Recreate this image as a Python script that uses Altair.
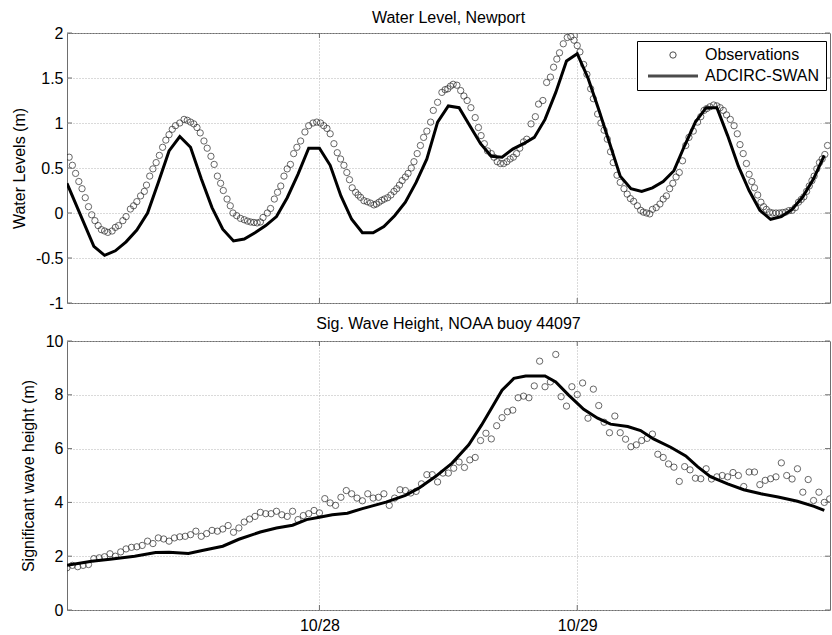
import altair as alt
import pandas as pd

# ---------------- data (hours relative to 10/28 00:00) ----------------
# Water level observations (Newport)
wl_obs_hours = [-23.3, -23.0, -22.7, -22.4, -22.1, -21.8, -21.5, -21.2, -20.9, -20.6,
                -20.3, -20.0, -19.7, -19.3, -19.0, -18.7, -18.3, -18.0, -17.6, -17.3,
                -17.0, -16.65, -16.3, -16.1, -15.8, -15.5, -15.2, -14.9, -14.6, -14.3,
                -14.0, -13.7, -13.4, -13.0, -12.6, -12.3, -12.0, -11.7, -11.4, -11.1,
                -10.75, -10.45, -10.1, -9.8, -9.5, -9.2, -8.95, -8.6, -8.3, -8.05,
                -7.7, -7.35, -7.0, -6.7, -6.4, -6.1, -5.8, -5.5, -5.25, -4.85,
                -4.55, -4.2, -3.9, -3.6, -3.3, -3.0, -2.7, -2.4, -2.1, -1.75,
                -1.35, -1.0, -0.6, -0.25, 0.1, 0.4, 0.7, 1.0, 1.35, 1.66,
                1.97, 2.28, 2.55, 2.8, 3.05, 3.37, 3.6, 3.83, 4.14, 4.45,
                4.75, 5.07, 5.3, 5.55, 5.8, 6.05, 6.35, 6.65, 6.94, 7.2,
                7.45, 7.7, 8.0, 8.25, 8.55, 8.8, 9.1, 9.4, 9.7, 10.0,
                10.35, 10.6, 11.0, 11.4, 11.7, 11.95, 12.2, 12.45, 12.8, 13.15,
                13.45, 13.75, 14.1, 14.5, 14.8, 15.05, 15.35, 15.65, 16.0, 16.25,
                16.55, 16.85, 17.15, 17.45, 17.75, 18.05, 18.35, 18.65, 19.0, 19.3,
                19.7, 20.1, 20.4, 20.8, 21.15, 21.5, 21.8, 22.1, 22.35, 22.7,
                23.07, 23.4, 23.7, 24.0, 24.25, 24.6, 24.9, 25.25, 25.5, 25.9,
                26.2, 26.5, 26.8, 27.1, 27.35, 27.7, 28.0, 28.35, 28.65, 28.95,
                29.25, 29.6, 29.9, 30.15, 30.45, 30.75, 31.0, 31.35, 31.7, 32.0,
                32.3, 32.6, 32.9, 33.2, 33.5, 33.8, 34.1, 34.4, 34.8, 35.2,
                35.5, 35.8, 36.05, 36.35, 36.7, 37.0, 37.3, 37.6, 37.9, 38.25,
                38.6, 38.9, 39.15, 39.45, 39.75, 40.0, 40.25, 40.5, 40.8, 41.1,
                41.35, 41.6, 41.9, 42.2, 42.5, 42.8, 43.1, 43.4, 43.7, 44.0,
                44.3, 44.6, 44.85, 45.1, 45.35, 45.6, 45.85, 46.05, 46.3, 46.55,
                46.8, 47.05, 47.3]
wl_obs_values = [0.62, 0.53, 0.44, 0.35, 0.27, 0.17, 0.07, -0.02, -0.085, -0.14,
                 -0.185, -0.20, -0.215, -0.20, -0.16, -0.14, -0.085, -0.04, 0.044, 0.08,
                 0.126, 0.19, 0.24, 0.31, 0.41, 0.49, 0.56, 0.64, 0.73, 0.81,
                 0.87, 0.93, 0.97, 1.0, 1.04, 1.03, 1.01, 0.99, 0.95, 0.89,
                 0.80, 0.72, 0.63, 0.54, 0.41, 0.33, 0.25, 0.155, 0.08, 0.0,
                 -0.03, -0.06, -0.075, -0.09, -0.10, -0.105, -0.11, -0.10, -0.05, 0.0,
                 0.05, 0.155, 0.23, 0.30, 0.41, 0.49, 0.54, 0.66, 0.73, 0.80,
                 0.90, 0.97, 1.0, 1.01, 1.0, 0.97, 0.94, 0.88, 0.77, 0.67,
                 0.60, 0.53, 0.45, 0.37, 0.28, 0.23, 0.20, 0.174, 0.137, 0.125,
                 0.11, 0.09, 0.10, 0.12, 0.14, 0.155, 0.17, 0.20, 0.24, 0.27,
                 0.31, 0.36, 0.40, 0.44, 0.50, 0.57, 0.66, 0.75, 0.84, 0.91,
                 1.01, 1.14, 1.23, 1.34, 1.37, 1.38, 1.41, 1.43, 1.42, 1.36,
                 1.30, 1.25, 1.17, 1.06, 0.95, 0.86, 0.77, 0.69, 0.66, 0.62,
                 0.57, 0.55, 0.55, 0.57, 0.60, 0.62, 0.66, 0.72, 0.79, 0.82,
                 0.99, 1.07, 1.21, 1.25, 1.45, 1.51, 1.62, 1.71, 1.78, 1.88,
                 1.95, 1.96, 1.92, 1.86, 1.79, 1.65, 1.54, 1.38, 1.27, 1.10,
                 1.00, 0.92, 0.82, 0.68, 0.56, 0.42, 0.34, 0.27, 0.21, 0.16,
                 0.13, 0.08, 0.03, 0.01, 0.0, -0.01, 0.04, 0.06, 0.10, 0.155,
                 0.19, 0.27, 0.33, 0.40, 0.45, 0.58, 0.75, 0.84, 0.91, 1.01,
                 1.07, 1.14, 1.16, 1.18, 1.20, 1.19, 1.17, 1.14, 1.09, 1.04,
                 0.97, 0.88, 0.76, 0.66, 0.55, 0.43, 0.35, 0.28, 0.20, 0.12,
                 0.07, 0.04, 0.01, 0.0, 0.0, 0.0, 0.005, 0.01, 0.026, 0.03,
                 0.06, 0.12, 0.15, 0.18, 0.24, 0.30, 0.36, 0.41, 0.49, 0.56,
                 0.60, 0.65, 0.75]

# Water level, ADCIRC-SWAN model (hourly)
wl_model_hours = [-23.5, -21, -20, -19, -18, -17, -16, -15, -14, -13,
                  -12, -11, -10, -9, -8, -7, -6, -5, -4, -3,
                  -2, -1, 0, 1, 2, 3, 4, 5, 6, 7,
                  8, 9, 10, 11, 12, 13, 14, 15, 16, 17,
                  18, 19, 20, 21, 22, 23, 24, 25, 26, 27,
                  28, 29, 30, 31, 32, 33, 34, 35, 36, 37,
                  38, 39, 40, 41, 42, 43, 44, 45, 46, 47]
wl_model_values = [0.33, -0.37, -0.47, -0.42, -0.32, -0.19, 0.00, 0.34, 0.69, 0.85,
                   0.73, 0.38, 0.06, -0.18, -0.31, -0.29, -0.22, -0.14, -0.04, 0.17,
                   0.43, 0.72, 0.72, 0.53, 0.19, -0.07, -0.22, -0.22, -0.15, -0.03,
                   0.12, 0.34, 0.60, 1.01, 1.19, 1.17, 0.97, 0.77, 0.63, 0.62,
                   0.71, 0.77, 0.84, 1.04, 1.34, 1.69, 1.77, 1.50, 1.15, 0.78,
                   0.41, 0.27, 0.24, 0.28, 0.35, 0.47, 0.75, 1.01, 1.17, 1.17,
                   0.86, 0.52, 0.25, 0.03, -0.07, -0.04, 0.04, 0.18, 0.38, 0.64]

# Significant wave height, NOAA buoy 44097 (half-hourly)
hs_obs_hours = [-23.5, -23.0, -22.5, -22.0, -21.5, -21.0, -20.5, -20.0, -19.5, -19.0,
                -18.5, -18.0, -17.5, -17.0, -16.5, -16.0, -15.5, -15.0, -14.5, -14.0,
                -13.5, -13.0, -12.5, -12.0, -11.5, -11.0, -10.5, -10.0, -9.5, -9.0,
                -8.5, -8.0, -7.5, -7.0, -6.5, -6.0, -5.5, -5.0, -4.5, -4.0,
                -3.5, -3.0, -2.5, -2.0, -1.5, -1.0, -0.5, 0.0, 0.5, 1.0,
                1.5, 2.0, 2.5, 3.0, 3.5, 4.0, 4.5, 5.0, 5.5, 6.0,
                6.5, 7.0, 7.5, 8.0, 8.5, 9.0, 9.5, 10.0, 10.5, 11.0,
                11.5, 12.0, 12.5, 13.0, 13.5, 14.0, 14.5, 15.0, 15.5, 16.0,
                16.5, 17.0, 17.5, 18.0, 18.5, 19.0, 19.5, 20.0, 20.5, 21.0,
                21.5, 22.0, 22.5, 23.0, 23.5, 24.0, 24.5, 25.0, 25.5, 26.0,
                26.5, 27.0, 27.5, 28.0, 28.5, 29.0, 29.5, 30.0, 30.5, 31.0,
                31.5, 32.0, 32.5, 33.0, 33.5, 34.0, 34.5, 35.0, 35.5, 36.0,
                36.5, 37.0, 37.5, 38.0, 38.5, 39.0, 39.5, 40.0, 40.5, 41.0,
                41.5, 42.0, 42.5, 43.0, 43.5, 44.0, 44.5, 45.0, 45.5, 46.0,
                46.5, 47.0, 47.5]
hs_obs_values = [1.57, 1.66, 1.61, 1.66, 1.69, 1.91, 1.94, 1.98, 2.09, 2.00,
                 2.16, 2.27, 2.33, 2.35, 2.40, 2.56, 2.47, 2.68, 2.64, 2.56,
                 2.68, 2.72, 2.74, 2.80, 2.93, 2.74, 2.84, 2.96, 2.93, 3.01,
                 3.14, 2.89, 3.05, 3.27, 3.38, 3.48, 3.63, 3.58, 3.58, 3.67,
                 3.54, 3.48, 3.67, 3.36, 3.51, 3.58, 3.70, 3.61, 4.14, 3.98,
                 3.89, 4.19, 4.44, 4.32, 4.16, 4.06, 4.32, 4.16, 4.19, 4.32,
                 3.89, 4.16, 4.47, 4.44, 4.35, 4.41, 4.69, 5.03, 5.03, 4.76,
                 5.09, 5.09, 5.27, 5.50, 5.30, 5.58, 5.67, 6.30, 6.57, 6.36,
                 6.85, 7.15, 7.37, 7.43, 7.89, 7.95, 7.89, 8.33, 9.25, 8.30,
                 8.48, 9.50, 7.93, 7.58, 8.30, 8.01, 8.44, 7.13, 8.21, 7.60,
                 6.98, 6.59, 7.21, 6.59, 6.35, 6.07, 6.14, 6.30, 6.38, 6.54,
                 5.79, 5.67, 5.43, 5.31, 4.78, 5.33, 5.21, 4.90, 4.88, 5.25,
                 4.87, 4.95, 5.00, 4.95, 5.11, 5.00, 4.59, 5.13, 5.13, 4.66,
                 4.82, 4.88, 4.95, 5.47, 5.00, 4.87, 5.25, 4.38, 4.85, 4.07,
                 4.38, 4.00, 4.13]

# Significant wave height, ADCIRC-SWAN model
hs_model_hours = [-23.5, -21.2, -19.5, -17.2, -15.25, -14.0, -12.2, -10.8, -9.0, -7.5,
                  -5.5, -4.0, -2.5, -1.2, 0.0, 1.2, 2.6, 4.0, 6.2, 8.0,
                  9.25, 10.8, 12.35, 13.9, 15.1, 16.1, 17.0, 18.1, 19.2, 21.0,
                  22.0, 23.2, 24.6, 25.9, 27.1, 28.7, 29.9, 31.1, 32.7, 34.1,
                  35.2, 36.4, 38.0, 39.5, 41.1, 42.7, 44.5, 46.05, 47.0]
hs_model_values = [1.66, 1.81, 1.89, 2.00, 2.14, 2.15, 2.10, 2.22, 2.37, 2.63,
                   2.90, 3.05, 3.15, 3.36, 3.45, 3.54, 3.60, 3.77, 4.01, 4.26,
                   4.53, 4.96, 5.46, 6.14, 6.88, 7.56, 8.17, 8.61, 8.70, 8.70,
                   8.48, 7.99, 7.46, 7.13, 6.91, 6.82, 6.67, 6.36, 6.05, 5.73,
                   5.33, 4.96, 4.69, 4.47, 4.32, 4.20, 4.04, 3.85, 3.70]

series_names = ["Observations", "ADCIRC-SWAN"]
x_tick_values = [0, 24]
x_tick_labels = ["10/28", "10/29"]
wl_ticks = [-1, -0.5, 0, 0.5, 1, 1.5, 2]
hs_ticks = [0, 2, 4, 6, 8, 10]

# ---------------- tables ----------------
wl_obs = pd.DataFrame({"h": wl_obs_hours, "v": wl_obs_values, "series": series_names[0]})
wl_mod = pd.DataFrame({"h": wl_model_hours, "v": wl_model_values, "series": series_names[1]})
hs_obs = pd.DataFrame({"h": hs_obs_hours, "v": hs_obs_values, "series": series_names[0]})
hs_mod = pd.DataFrame({"h": hs_model_hours, "v": hs_model_values, "series": series_names[1]})
xt = pd.DataFrame({"h": x_tick_values})
wl_yt = pd.DataFrame({"v": wl_ticks})
hs_yt = pd.DataFrame({"v": hs_ticks})

W = 763
H1 = 270
H2 = 269
FONT = "Liberation Sans"
FRAME = "#6e6e6e"
MARK_GRAY = "#262626"
MSIZE = 40

x_scale = alt.Scale(domain=[-23.5, 47.53], nice=False, zero=False)
label_expr = ("datum.value == 0 ? '" + x_tick_labels[0] + "' : (datum.value == 24 ? '"
              + x_tick_labels[1] + "' : '')")


def x_axis(show_labels):
    return alt.Axis(values=x_tick_values, labelExpr=label_expr, labels=show_labels,
                    title=None, grid=True, ticks=False, domain=False,
                    labelPadding=7)


def panel(obs, mod, yt, ydomain, yvalues, ytitle, title_x, H, title, title_off,
          show_xlabels, legend):
    y_scale = alt.Scale(domain=ydomain, nice=False, zero=False)
    y_axis = alt.Axis(values=yvalues, labelExpr="'' + datum.value", title=ytitle,
                      titleX=title_x, grid=True, ticks=False, domain=False,
                      labelPadding=4)
    base_enc = dict(
        x=alt.X("h:Q", scale=x_scale, axis=x_axis(show_xlabels)),
        y=alt.Y("v:Q", scale=y_scale, axis=y_axis),
    )
    if legend:
        leg = alt.Legend(title=None, orient="none", legendX=570, legendY=8,
                         strokeColor="black", fillColor="white", padding=6,
                         labelFontSize=16, labelFont=FONT, labelColor="black",
                         labelOffset=24, symbolOffset=22, rowPadding=5,
                         symbolStrokeColor="black", cornerRadius=0, labelLimit=0)
        pts = alt.Chart(obs).mark_point(filled=False, color=MARK_GRAY, clip=True).encode(
            **base_enc,
            shape=alt.Shape("series:N", scale=alt.Scale(domain=series_names,
                                                        range=["circle", "M-5,0H5"]), legend=leg),
            size=alt.Size("series:N", scale=alt.Scale(domain=series_names, range=[MSIZE, 100]),
                          legend=leg),
            strokeWidth=alt.StrokeWidth("series:N", scale=alt.Scale(domain=series_names,
                                                                    range=[1, 3]), legend=leg),
        )
    else:
        pts = alt.Chart(obs).mark_point(filled=False, color=MARK_GRAY, size=MSIZE,
                                        strokeWidth=1, clip=True).encode(**base_enc)
    line = alt.Chart(mod).mark_line(color="black", strokeWidth=3, clip=True).encode(
        x=alt.X("h:Q", scale=x_scale), y=alt.Y("v:Q", scale=y_scale))
    # inward tick marks (MATLAB style) at the axis tick values
    lt = alt.Chart(yt).mark_rule(color=FRAME, strokeWidth=1).encode(
        y=alt.Y("v:Q", scale=y_scale), x=alt.value(0), x2=alt.value(5))
    rt = alt.Chart(yt).mark_rule(color=FRAME, strokeWidth=1).encode(
        y=alt.Y("v:Q", scale=y_scale), x=alt.value(W - 5), x2=alt.value(W))
    bt = alt.Chart(xt).mark_rule(color=FRAME, strokeWidth=1).encode(
        x=alt.X("h:Q", scale=x_scale), y=alt.value(H - 5), y2=alt.value(H))
    tt = alt.Chart(xt).mark_rule(color=FRAME, strokeWidth=1).encode(
        x=alt.X("h:Q", scale=x_scale), y=alt.value(0), y2=alt.value(5))
    return alt.layer(pts, line, lt, rt, bt, tt).properties(
        width=W, height=H,
        title=alt.TitleParams(title, fontSize=16, font=FONT, fontWeight="normal",
                              color="black", offset=title_off, anchor="middle"),
    )


top = panel(wl_obs, wl_mod, wl_yt, [-1, 2], wl_ticks, "Water Levels (m)", -40, H1,
            "Water Level, Newport", -1, False, True)
bottom = panel(hs_obs, hs_mod, hs_yt, [0, 10], hs_ticks, "Significant wave height (m)", -31, H2,
               "Sig. Wave Height, NOAA buoy 44097", 1, True, False)

chart = alt.vconcat(top, bottom, spacing=38, bounds="flush").resolve_scale(
    shape="independent", size="independent", strokeWidth="independent"
).properties(
    padding={"left": 10, "top": 9, "right": 1, "bottom": 0},
    background="white",
).configure_view(
    stroke=FRAME, strokeWidth=1
).configure_axis(
    labelFont=FONT, labelFontSize=16, labelColor="black",
    titleFont=FONT, titleFontSize=16, titleColor="black", titleFontWeight="normal",
    gridColor="#b5b5b5", gridDash=[1, 2], gridWidth=1,
).configure_legend(
    labelFont=FONT
)

chart.save("out.html", embed_options={"renderer": "svg", "actions": False})
